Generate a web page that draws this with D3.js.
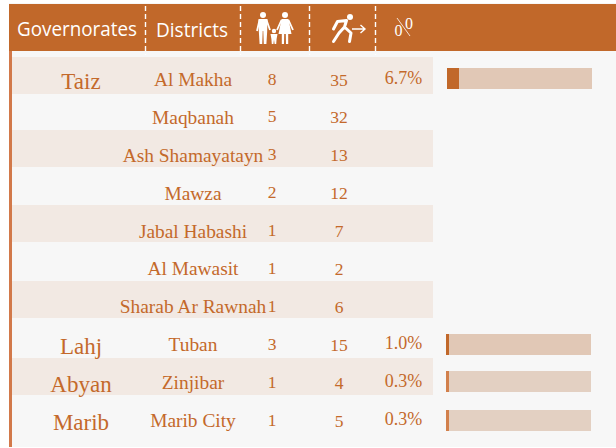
<!DOCTYPE html>
<html>
<head>
<meta charset="utf-8">
<script src="https://cdn.jsdelivr.net/npm/d3@7"></script>
<style>
html, body { margin: 0; padding: 0; background: #fff; }
svg { display: block; }
text { font-family: "Liberation Serif", serif; fill: #c4692b; }
.head { font-family: "Open Sans", sans-serif; fill: #fff; }
</style>
</head>
<body>
<div id="chart"></div>
<script>
// DATA
const districts = ["Al Makha", "Maqbanah", "Ash Shamayatayn", "Mawza", "Jabal Habashi", "Al Mawasit", "Sharab Ar Rawnah", "Tuban", "Zinjibar", "Marib City"];
const families = [8, 5, 3, 2, 1, 1, 1, 3, 1, 1];
const idps = [35, 32, 13, 12, 7, 2, 6, 15, 4, 5];
const governorates = ["Taiz", null, null, null, null, null, null, "Lahj", "Abyan", "Marib"];
const shares = [6.7, null, null, null, null, null, null, 1.0, 0.3, 0.3];
const columnHeads = ["Governorates", "Districts"];

// LAYOUT
const width = 616, height = 448;
const orange = "#c1682a";
const stripeTops = [57, 130, 205, 281, 358];   // stripes are not quite evenly spaced in the original
const barTops = {0: 68, 7: 334, 8: 371, 9: 410};

const svg = d3.select("#chart").append("svg")
    .attr("width", width)
    .attr("height", height);

// Panel background
svg.append("rect").attr("x", 9).attr("y", 3).attr("width", width - 9).attr("height", height - 4).attr("fill", "#f7f7f7");
svg.append("rect").attr("x", 9).attr("y", 4).attr("width", 3).attr("height", height - 5).attr("fill", "#d2794a");
svg.append("rect").attr("x", 9).attr("y", 4).attr("width", width - 9).attr("height", 47).attr("fill", orange);

// Text baseline of each row
const y = d3.scaleLinear().domain([0, districts.length - 1]).range([86, 427]);

svg.append("g").selectAll("rect")
    .data(stripeTops)
    .enter().append("rect")
    .attr("x", 12)
    .attr("y", d => d)
    .attr("width", 421)
    .attr("height", 37)
    .attr("fill", "#f2e9e3");

// Dashed column separators
svg.append("g").selectAll("line")
    .data([145.5, 240.5, 309.5, 375.5])
    .enter().append("line")
    .attr("x1", d => d).attr("x2", d => d)
    .attr("y1", 6).attr("y2", 55)
    .attr("stroke", "#fff")
    .attr("stroke-width", 1.4)
    .attr("stroke-dasharray", "5 3");

// Header labels, squeezed a little because the original face is narrower
svg.append("text").attr("class", "head").attr("x", 17).attr("y", 36).attr("font-size", 20.5)
    .attr("textLength", 120).attr("lengthAdjust", "spacingAndGlyphs").text(columnHeads[0]);
svg.append("text").attr("class", "head").attr("x", 156).attr("y", 37).attr("font-size", 20.5)
    .attr("textLength", 72).attr("lengthAdjust", "spacingAndGlyphs").text(columnHeads[1]);

// Header icons
const icons = svg.append("g").attr("fill", "#fff").attr("stroke", "#fff");
const person = (x, dress) => {
    const g = icons.append("g").attr("transform", `translate(${x},12)`);
    g.append("circle").attr("cx", 0).attr("cy", 3).attr("r", 3).attr("stroke", "none");
    if (dress) {
        g.append("path").attr("d", "M-3.5,7 L3.5,7 L6.5,22 L3.2,22 L3.2,32 L1,32 L0.8,22 L-0.8,22 L-1,32 L-3.2,32 L-3.2,22 L-6.5,22 Z").attr("stroke", "none");
    } else {
        g.append("path").attr("d", "M-4.5,7 L4.5,7 L4.2,19 L3.4,32 L0.8,32 L0.3,19 L-0.3,19 L-0.8,32 L-3.4,32 L-4.2,19 Z").attr("stroke", "none");
    }
};
person(263, false);
person(285, true);
icons.append("path").attr("fill", "none").attr("stroke-width", 1.8)
    .attr("d", "M259.5,20 L257,31 M266.5,20 L270,30 M281.5,20 L277,30 M288.5,20 L293,30");
icons.append("circle").attr("cx", 274).attr("cy", 31).attr("r", 2.2).attr("stroke", "none");
icons.append("path").attr("stroke", "none").attr("d", "M270.5,34 L277.5,34 L276.6,39 L276.2,44 L274.6,44 L274,39.5 L273.4,44 L271.8,44 L271.4,39 Z");

icons.append("circle").attr("cx", 350).attr("cy", 17).attr("r", 3).attr("stroke", "none");
icons.append("path").attr("fill", "none").attr("stroke-width", 3).attr("stroke-linecap", "round").attr("stroke-linejoin", "round")
    .attr("d", "M333.5,29 L337.5,21.5 L346.5,20.5 L344.5,27 L351,33 L349.5,41.5 M344.5,27 L339,33 L333.5,41.5");
icons.append("path").attr("fill", "none").attr("stroke-width", 1.4)
    .attr("d", "M352,29 L365,29 M360.5,25 L365,29 L360.5,33");

svg.append("text").attr("class", "head").attr("x", 394.5).attr("y", 35.5).attr("font-size", 16).style("font-family", "'Liberation Serif', serif").text("0");
svg.append("text").attr("class", "head").attr("x", 405).attr("y", 28.5).attr("font-size", 16).style("font-family", "'Liberation Serif', serif").text("0");
icons.append("line").attr("x1", 397).attr("y1", 18).attr("x2", 410).attr("y2", 36).attr("stroke-width", 0.8);

// Body text
svg.append("g").selectAll("text")
    .data(governorates)
    .enter().filter(d => d).append("text")
    .attr("x", 81)
    .attr("y", d => y(governorates.indexOf(d)) + 2.5)
    .attr("text-anchor", "middle")
    .attr("font-size", 23)
    .text(d => d);

svg.append("g").selectAll("text")
    .data(districts)
    .enter().append("text")
    .attr("x", 193)
    .attr("y", (d, i) => y(i))
    .attr("text-anchor", "middle")
    .attr("font-size", 19.4)
    .text(d => d);

svg.append("g").selectAll("text")
    .data(families)
    .enter().append("text")
    .attr("x", 272)
    .attr("y", (d, i) => y(i) - 1.5)
    .attr("text-anchor", "middle")
    .attr("font-size", 17.5)
    .text(d => d);

svg.append("g").selectAll("text")
    .data(idps)
    .enter().append("text")
    .attr("x", 339)
    .attr("y", (d, i) => y(i) - 0.5)
    .attr("text-anchor", "middle")
    .attr("font-size", 17.5)
    .text(d => d);

// Share labels and bars, only the rows that have a share
const shareRows = shares.map((v, i) => ({v, i})).filter(d => d.v !== null);

svg.append("g").selectAll("text")
    .data(shareRows)
    .enter().append("text")
    .attr("x", 403.5)
    .attr("y", d => y(d.i) - 2.5)
    .attr("text-anchor", "middle")
    .attr("font-size", 18)
    .text(d => d.v.toFixed(1) + "%");

const barX = d3.scaleLinear().domain([0, 81]).range([0, 145]);

const bars = svg.append("g").selectAll("g")
    .data(shareRows)
    .enter().append("g")
    .attr("transform", d => `translate(${d.i === 0 ? 447 : 446},${barTops[d.i]})`);

bars.append("rect")
    .attr("width", barX.range()[1])
    .attr("height", 21)
    .attr("fill", d => d.v < 1 ? "#e3d0c2" : "#e1c8b6");

bars.append("rect")
    .attr("width", d => Math.max(3, barX(d.v)))
    .attr("height", 21)
    .attr("fill", d => d.v < 1 ? "#d2804c" : orange);
</script>
</body>
</html>
